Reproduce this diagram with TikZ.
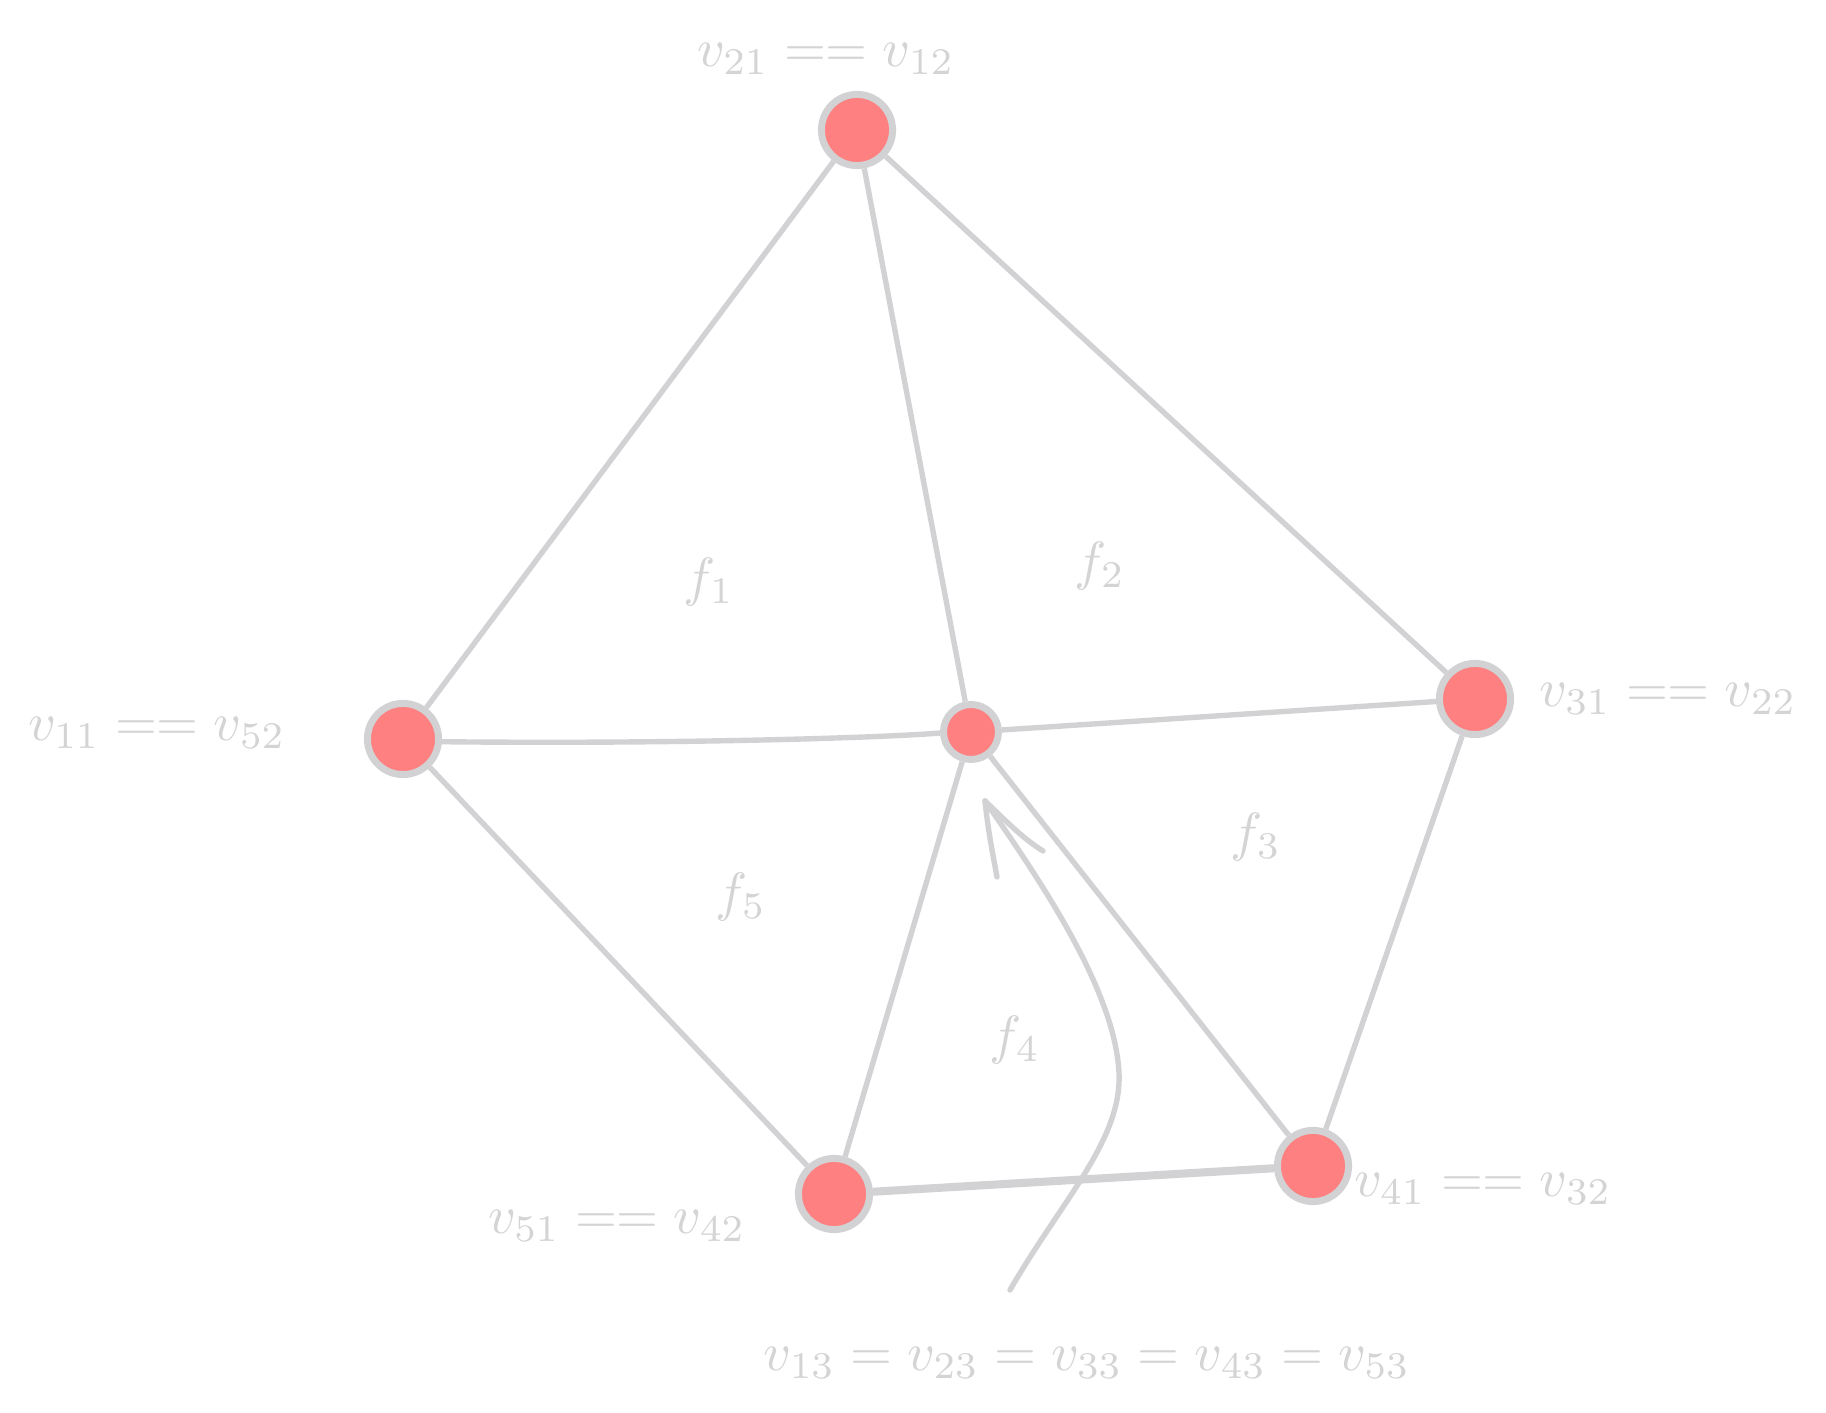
\documentclass[tikz,border=0pt]{standalone}
\definecolor{edgegray}{RGB}{210,209,212}
\definecolor{textgray}{RGB}{212,212,212}
\definecolor{vfill}{RGB}{255,128,128}
\begin{document}
\begin{tikzpicture}[x=0.1855pt,y=-0.1855pt,
  vert/.style={circle,draw=edgegray,fill=vfill,line width=1.3pt,minimum size=13.2pt,inner sep=0pt},
  smallvert/.style={vert,minimum size=10.2pt},
  edge/.style={draw=edgegray,line width=1pt},
  thickedge/.style={edge,line width=1.5pt},
  lbl/.style={text=textgray,inner sep=0pt},
  arrowline/.style={draw=edgegray,line width=1pt,line cap=round}]
\useasboundingbox (0,0) rectangle (1826,1413);
% vertices
\node[vert] (t) at (857,130) {};
\node[vert] (l) at (403,739) {};
\node[smallvert] (c) at (971,732) {};
\node[vert] (r) at (1475,699) {};
\node[vert] (bl) at (834,1194) {};
\node[vert] (br) at (1313,1166) {};
% edges
\draw[edge] (t) -- (l);
\draw[edge] (t) -- (c);
\draw[edge] (t) -- (r);
\draw[edge] (l.-4) .. controls (650,744) and (860,739) .. (c.182);
\draw[edge] (c) -- (r);
\draw[edge] (c) -- (bl);
\draw[edge] (c) -- (br);
\draw[edge] (l) -- (bl);
\draw[thickedge] (bl) -- (br);
\draw[edge] (r) -- (br);
% arrow curve
\coordinate (tip) at (985,801);
\coordinate (tail) at (1010,1290);
\coordinate (barbA) at (997,877);
\coordinate (barbB) at (1043,851);
\draw[arrowline] (tail) .. controls (1062,1200) and (1122,1140) .. (1119,1073)
  .. controls (1115,990) and (1040,880) .. (tip);
\draw[arrowline] (tip) .. controls (988,830) and (992,850) .. (barbA);
\draw[arrowline] (tip) .. controls (1005,820) and (1022,838) .. (barbB);
% vertex labels
\node[lbl] at (826,59) {$v_{21} == v_{12}$};
\node[lbl] at (157,733) {$v_{11} == v_{52}$};
\node[lbl] at (1668,699) {$v_{31} == v_{22}$};
\node[lbl] at (617,1226) {$v_{51} == v_{42}$};
\node[lbl] at (1483,1189) {$v_{41} == v_{32}$};
\node[lbl] at (1087,1363) {$v_{13} = v_{23} = v_{33} = v_{43} = v_{53}$};
% face labels
\node[lbl] at (709,582) {$f_1$};
\node[lbl] at (1100,566) {$f_2$};
\node[lbl] at (1256,837) {$f_3$};
\node[lbl] at (1015,1040) {$f_4$};
\node[lbl] at (741,897) {$f_5$};
\end{tikzpicture}
\end{document}
